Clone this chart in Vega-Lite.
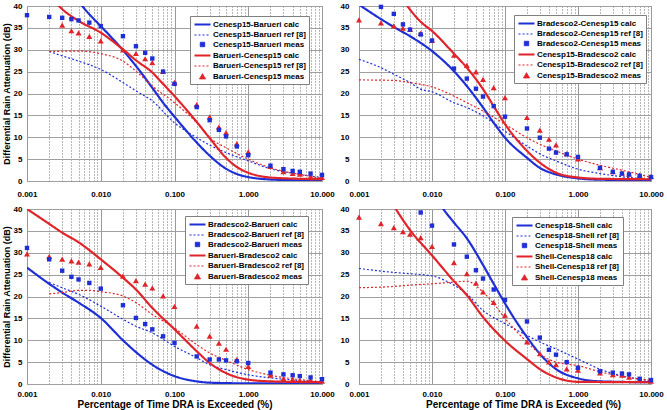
{
  "$schema": "https://vega.github.io/schema/vega-lite/v6.json",
  "background": "white",
  "padding": {"left": 1, "top": 1, "right": 2, "bottom": 0},
  "columns": 2,
  "bounds": "flush",
  "spacing": {"row": 28, "column": 37},
  "resolve": {
    "scale": {"color": "independent", "shape": "independent", "strokeDash": "independent", "strokeWidth": "independent"},
    "legend": {"color": "independent", "shape": "independent", "strokeDash": "independent", "strokeWidth": "independent"}
  },
  "config": {
    "font": "Liberation Sans",
    "view": {"stroke": "#808080", "strokeWidth": 1},
    "axis": {
      "labelFont": "Liberation Sans", "labelFontWeight": "bold", "labelFontSize": 8, "labelColor": "#000",
      "titleFont": "Liberation Sans", "titleFontWeight": "bold", "titleColor": "#000",
      "ticks": false, "domain": false, "gridColor": "#a0a0a0", "gridWidth": 1
    },
    "legend": {
      "orient": "none", "labelFont": "Liberation Sans", "labelFontWeight": "bold", "labelFontSize": 8,
      "labelColor": "#000", "symbolSize": 64, "symbolOffset": 4, "fillColor": "#ffffff", "strokeColor": "#808080",
      "padding": 3, "rowPadding": 1, "labelOffset": 5, "labelLimit": 300
    }
  },
  "datasets": {
    "p1": [
      {"series": "Cenesp15-Barueri calc", "pct": 0.004, "dB": 43},
      {"series": "Cenesp15-Barueri calc", "pct": 0.0056, "dB": 40},
      {"series": "Cenesp15-Barueri calc", "pct": 0.007, "dB": 38.1},
      {"series": "Cenesp15-Barueri calc", "pct": 0.01, "dB": 35.4},
      {"series": "Cenesp15-Barueri calc", "pct": 0.02, "dB": 29.9},
      {"series": "Cenesp15-Barueri calc", "pct": 0.03, "dB": 26.3},
      {"series": "Cenesp15-Barueri calc", "pct": 0.05, "dB": 21.3},
      {"series": "Cenesp15-Barueri calc", "pct": 0.07, "dB": 17.9},
      {"series": "Cenesp15-Barueri calc", "pct": 0.1, "dB": 14.7},
      {"series": "Cenesp15-Barueri calc", "pct": 0.2, "dB": 8.8},
      {"series": "Cenesp15-Barueri calc", "pct": 0.3, "dB": 5.8},
      {"series": "Cenesp15-Barueri calc", "pct": 0.5, "dB": 2.8},
      {"series": "Cenesp15-Barueri calc", "pct": 0.7, "dB": 1.6},
      {"series": "Cenesp15-Barueri calc", "pct": 1, "dB": 0.9},
      {"series": "Cenesp15-Barueri calc", "pct": 2, "dB": 0.35},
      {"series": "Cenesp15-Barueri calc", "pct": 5, "dB": 0.15},
      {"series": "Cenesp15-Barueri calc", "pct": 10, "dB": 0.1},
      {"series": "Cenesp15-Barueri ref [8]", "pct": 0.002, "dB": 29.6},
      {"series": "Cenesp15-Barueri ref [8]", "pct": 0.003, "dB": 28.6},
      {"series": "Cenesp15-Barueri ref [8]", "pct": 0.005, "dB": 27.4},
      {"series": "Cenesp15-Barueri ref [8]", "pct": 0.01, "dB": 25.5},
      {"series": "Cenesp15-Barueri ref [8]", "pct": 0.02, "dB": 22.5},
      {"series": "Cenesp15-Barueri ref [8]", "pct": 0.03, "dB": 20.6},
      {"series": "Cenesp15-Barueri ref [8]", "pct": 0.05, "dB": 18.3},
      {"series": "Cenesp15-Barueri ref [8]", "pct": 0.1, "dB": 13.3},
      {"series": "Cenesp15-Barueri ref [8]", "pct": 0.2, "dB": 9.9},
      {"series": "Cenesp15-Barueri ref [8]", "pct": 0.3, "dB": 8.2},
      {"series": "Cenesp15-Barueri ref [8]", "pct": 0.5, "dB": 6.5},
      {"series": "Cenesp15-Barueri ref [8]", "pct": 1, "dB": 4.6},
      {"series": "Cenesp15-Barueri ref [8]", "pct": 2, "dB": 2.8},
      {"series": "Cenesp15-Barueri ref [8]", "pct": 5, "dB": 1.5},
      {"series": "Cenesp15-Barueri ref [8]", "pct": 10, "dB": 0.8},
      {"series": "Barueri-Cenesp15 meas", "pct": 0.003, "dB": 35.6},
      {"series": "Barueri-Cenesp15 meas", "pct": 0.004, "dB": 34.3},
      {"series": "Barueri-Cenesp15 meas", "pct": 0.005, "dB": 33.8},
      {"series": "Barueri-Cenesp15 meas", "pct": 0.007, "dB": 33.0},
      {"series": "Barueri-Cenesp15 meas", "pct": 0.01, "dB": 32.0},
      {"series": "Barueri-Cenesp15 meas", "pct": 0.02, "dB": 29.9},
      {"series": "Barueri-Cenesp15 meas", "pct": 0.03, "dB": 29.1},
      {"series": "Barueri-Cenesp15 meas", "pct": 0.04, "dB": 27.9},
      {"series": "Barueri-Cenesp15 meas", "pct": 0.05, "dB": 27.0},
      {"series": "Barueri-Cenesp15 meas", "pct": 0.07, "dB": 25.0},
      {"series": "Barueri-Cenesp15 meas", "pct": 0.1, "dB": 22.5},
      {"series": "Barueri-Cenesp15 meas", "pct": 0.2, "dB": 17.4},
      {"series": "Barueri-Cenesp15 meas", "pct": 0.3, "dB": 14.6},
      {"series": "Barueri-Cenesp15 meas", "pct": 0.4, "dB": 12.3},
      {"series": "Barueri-Cenesp15 meas", "pct": 0.5, "dB": 11.0},
      {"series": "Barueri-Cenesp15 meas", "pct": 0.7, "dB": 8.5},
      {"series": "Barueri-Cenesp15 meas", "pct": 1, "dB": 6.6},
      {"series": "Barueri-Cenesp15 meas", "pct": 2, "dB": 3.3},
      {"series": "Barueri-Cenesp15 meas", "pct": 3, "dB": 2.1},
      {"series": "Barueri-Cenesp15 meas", "pct": 4, "dB": 1.7},
      {"series": "Barueri-Cenesp15 meas", "pct": 5, "dB": 1.5},
      {"series": "Barueri-Cenesp15 meas", "pct": 7, "dB": 1.0},
      {"series": "Barueri-Cenesp15 meas", "pct": 10, "dB": 0.8},
      {"series": "Cenesp15-Barueri meas", "pct": 0.001, "dB": 37.9},
      {"series": "Cenesp15-Barueri meas", "pct": 0.002, "dB": 37.5},
      {"series": "Cenesp15-Barueri meas", "pct": 0.003, "dB": 37.3},
      {"series": "Cenesp15-Barueri meas", "pct": 0.004, "dB": 37.0},
      {"series": "Cenesp15-Barueri meas", "pct": 0.005, "dB": 36.7},
      {"series": "Cenesp15-Barueri meas", "pct": 0.007, "dB": 36.2},
      {"series": "Cenesp15-Barueri meas", "pct": 0.01, "dB": 35.4},
      {"series": "Cenesp15-Barueri meas", "pct": 0.02, "dB": 33.1},
      {"series": "Cenesp15-Barueri meas", "pct": 0.03, "dB": 30.8},
      {"series": "Cenesp15-Barueri meas", "pct": 0.04, "dB": 29.3},
      {"series": "Cenesp15-Barueri meas", "pct": 0.05, "dB": 28.0},
      {"series": "Cenesp15-Barueri meas", "pct": 0.07, "dB": 25.0},
      {"series": "Cenesp15-Barueri meas", "pct": 0.1, "dB": 22.2},
      {"series": "Cenesp15-Barueri meas", "pct": 0.2, "dB": 16.9},
      {"series": "Cenesp15-Barueri meas", "pct": 0.3, "dB": 13.9},
      {"series": "Cenesp15-Barueri meas", "pct": 0.4, "dB": 11.7},
      {"series": "Cenesp15-Barueri meas", "pct": 0.5, "dB": 10.2},
      {"series": "Cenesp15-Barueri meas", "pct": 0.7, "dB": 7.9},
      {"series": "Cenesp15-Barueri meas", "pct": 1, "dB": 5.9},
      {"series": "Cenesp15-Barueri meas", "pct": 2, "dB": 3.5},
      {"series": "Cenesp15-Barueri meas", "pct": 3, "dB": 2.7},
      {"series": "Cenesp15-Barueri meas", "pct": 4, "dB": 2.3},
      {"series": "Cenesp15-Barueri meas", "pct": 5, "dB": 2.1},
      {"series": "Cenesp15-Barueri meas", "pct": 7, "dB": 1.7},
      {"series": "Cenesp15-Barueri meas", "pct": 10, "dB": 1.4},
      {"series": "Barueri-Cenesp15 calc", "pct": 0.002, "dB": 42.5},
      {"series": "Barueri-Cenesp15 calc", "pct": 0.0027, "dB": 40},
      {"series": "Barueri-Cenesp15 calc", "pct": 0.005, "dB": 36.6},
      {"series": "Barueri-Cenesp15 calc", "pct": 0.01, "dB": 33.9},
      {"series": "Barueri-Cenesp15 calc", "pct": 0.02, "dB": 30.1},
      {"series": "Barueri-Cenesp15 calc", "pct": 0.03, "dB": 27.6},
      {"series": "Barueri-Cenesp15 calc", "pct": 0.05, "dB": 24.8},
      {"series": "Barueri-Cenesp15 calc", "pct": 0.07, "dB": 22.2},
      {"series": "Barueri-Cenesp15 calc", "pct": 0.1, "dB": 19.4},
      {"series": "Barueri-Cenesp15 calc", "pct": 0.2, "dB": 13.5},
      {"series": "Barueri-Cenesp15 calc", "pct": 0.3, "dB": 9.8},
      {"series": "Barueri-Cenesp15 calc", "pct": 0.5, "dB": 5.3},
      {"series": "Barueri-Cenesp15 calc", "pct": 0.7, "dB": 3.2},
      {"series": "Barueri-Cenesp15 calc", "pct": 1, "dB": 1.9},
      {"series": "Barueri-Cenesp15 calc", "pct": 2, "dB": 0.8},
      {"series": "Barueri-Cenesp15 calc", "pct": 5, "dB": 0.5},
      {"series": "Barueri-Cenesp15 calc", "pct": 10, "dB": 0.4},
      {"series": "Barueri-Cenesp15 ref [8]", "pct": 0.002, "dB": 29.6},
      {"series": "Barueri-Cenesp15 ref [8]", "pct": 0.005, "dB": 29.7},
      {"series": "Barueri-Cenesp15 ref [8]", "pct": 0.01, "dB": 29.1},
      {"series": "Barueri-Cenesp15 ref [8]", "pct": 0.02, "dB": 27.4},
      {"series": "Barueri-Cenesp15 ref [8]", "pct": 0.03, "dB": 25.1},
      {"series": "Barueri-Cenesp15 ref [8]", "pct": 0.05, "dB": 21.7},
      {"series": "Barueri-Cenesp15 ref [8]", "pct": 0.1, "dB": 17.9},
      {"series": "Barueri-Cenesp15 ref [8]", "pct": 0.2, "dB": 13.3},
      {"series": "Barueri-Cenesp15 ref [8]", "pct": 0.3, "dB": 9.9},
      {"series": "Barueri-Cenesp15 ref [8]", "pct": 0.5, "dB": 7.6},
      {"series": "Barueri-Cenesp15 ref [8]", "pct": 1, "dB": 5.0},
      {"series": "Barueri-Cenesp15 ref [8]", "pct": 2, "dB": 3.0},
      {"series": "Barueri-Cenesp15 ref [8]", "pct": 5, "dB": 1.5},
      {"series": "Barueri-Cenesp15 ref [8]", "pct": 10, "dB": 0.6}
    ],
    "p2": [
      {"series": "Bradesco2-Cenesp15 calc", "pct": 0.001, "dB": 40.3},
      {"series": "Bradesco2-Cenesp15 calc", "pct": 0.002, "dB": 37.0},
      {"series": "Bradesco2-Cenesp15 calc", "pct": 0.003, "dB": 35.2},
      {"series": "Bradesco2-Cenesp15 calc", "pct": 0.005, "dB": 33.1},
      {"series": "Bradesco2-Cenesp15 calc", "pct": 0.01, "dB": 29.7},
      {"series": "Bradesco2-Cenesp15 calc", "pct": 0.02, "dB": 25.1},
      {"series": "Bradesco2-Cenesp15 calc", "pct": 0.03, "dB": 21.7},
      {"series": "Bradesco2-Cenesp15 calc", "pct": 0.05, "dB": 16.8},
      {"series": "Bradesco2-Cenesp15 calc", "pct": 0.07, "dB": 13.3},
      {"series": "Bradesco2-Cenesp15 calc", "pct": 0.1, "dB": 9.9},
      {"series": "Bradesco2-Cenesp15 calc", "pct": 0.2, "dB": 5.3},
      {"series": "Bradesco2-Cenesp15 calc", "pct": 0.3, "dB": 3.0},
      {"series": "Bradesco2-Cenesp15 calc", "pct": 0.5, "dB": 1.5},
      {"series": "Bradesco2-Cenesp15 calc", "pct": 1, "dB": 0.6},
      {"series": "Bradesco2-Cenesp15 calc", "pct": 2, "dB": 0.3},
      {"series": "Bradesco2-Cenesp15 calc", "pct": 10, "dB": 0.2},
      {"series": "Bradesco2-Cenesp15 ref [8]", "pct": 0.001, "dB": 27.8},
      {"series": "Bradesco2-Cenesp15 ref [8]", "pct": 0.002, "dB": 25.9},
      {"series": "Bradesco2-Cenesp15 ref [8]", "pct": 0.003, "dB": 24.4},
      {"series": "Bradesco2-Cenesp15 ref [8]", "pct": 0.005, "dB": 22.5},
      {"series": "Bradesco2-Cenesp15 ref [8]", "pct": 0.007, "dB": 21.0},
      {"series": "Bradesco2-Cenesp15 ref [8]", "pct": 0.01, "dB": 20.4},
      {"series": "Bradesco2-Cenesp15 ref [8]", "pct": 0.02, "dB": 17.9},
      {"series": "Bradesco2-Cenesp15 ref [8]", "pct": 0.03, "dB": 16.8},
      {"series": "Bradesco2-Cenesp15 ref [8]", "pct": 0.05, "dB": 14.9},
      {"series": "Bradesco2-Cenesp15 ref [8]", "pct": 0.1, "dB": 11.4},
      {"series": "Bradesco2-Cenesp15 ref [8]", "pct": 0.2, "dB": 8.0},
      {"series": "Bradesco2-Cenesp15 ref [8]", "pct": 0.3, "dB": 6.2},
      {"series": "Bradesco2-Cenesp15 ref [8]", "pct": 0.5, "dB": 4.6},
      {"series": "Bradesco2-Cenesp15 ref [8]", "pct": 1, "dB": 2.7},
      {"series": "Bradesco2-Cenesp15 ref [8]", "pct": 2, "dB": 1.7},
      {"series": "Bradesco2-Cenesp15 ref [8]", "pct": 5, "dB": 0.8},
      {"series": "Bradesco2-Cenesp15 ref [8]", "pct": 10, "dB": 0.4},
      {"series": "Cenesp15-Bradesco2 meas", "pct": 0.001, "dB": 36.8},
      {"series": "Cenesp15-Bradesco2 meas", "pct": 0.002, "dB": 36.1},
      {"series": "Cenesp15-Bradesco2 meas", "pct": 0.003, "dB": 35.4},
      {"series": "Cenesp15-Bradesco2 meas", "pct": 0.004, "dB": 34.9},
      {"series": "Cenesp15-Bradesco2 meas", "pct": 0.005, "dB": 34.6},
      {"series": "Cenesp15-Bradesco2 meas", "pct": 0.007, "dB": 33.7},
      {"series": "Cenesp15-Bradesco2 meas", "pct": 0.01, "dB": 32.1},
      {"series": "Cenesp15-Bradesco2 meas", "pct": 0.02, "dB": 28.7},
      {"series": "Cenesp15-Bradesco2 meas", "pct": 0.03, "dB": 26.4},
      {"series": "Cenesp15-Bradesco2 meas", "pct": 0.04, "dB": 24.9},
      {"series": "Cenesp15-Bradesco2 meas", "pct": 0.05, "dB": 23.2},
      {"series": "Cenesp15-Bradesco2 meas", "pct": 0.07, "dB": 21.3},
      {"series": "Cenesp15-Bradesco2 meas", "pct": 0.1, "dB": 19.0},
      {"series": "Cenesp15-Bradesco2 meas", "pct": 0.2, "dB": 14.5},
      {"series": "Cenesp15-Bradesco2 meas", "pct": 0.3, "dB": 11.6},
      {"series": "Cenesp15-Bradesco2 meas", "pct": 0.4, "dB": 9.5},
      {"series": "Cenesp15-Bradesco2 meas", "pct": 0.5, "dB": 8.2},
      {"series": "Cenesp15-Bradesco2 meas", "pct": 0.7, "dB": 6.2},
      {"series": "Cenesp15-Bradesco2 meas", "pct": 1, "dB": 5.0},
      {"series": "Cenesp15-Bradesco2 meas", "pct": 2, "dB": 3.0},
      {"series": "Cenesp15-Bradesco2 meas", "pct": 3, "dB": 2.1},
      {"series": "Cenesp15-Bradesco2 meas", "pct": 4, "dB": 1.8},
      {"series": "Cenesp15-Bradesco2 meas", "pct": 5, "dB": 1.5},
      {"series": "Cenesp15-Bradesco2 meas", "pct": 7, "dB": 1.3},
      {"series": "Cenesp15-Bradesco2 meas", "pct": 10, "dB": 1.0},
      {"series": "Bradesco2-Cenesp15 meas", "pct": 0.002, "dB": 39.8},
      {"series": "Bradesco2-Cenesp15 meas", "pct": 0.003, "dB": 38.2},
      {"series": "Bradesco2-Cenesp15 meas", "pct": 0.004, "dB": 35.8},
      {"series": "Bradesco2-Cenesp15 meas", "pct": 0.005, "dB": 34.6},
      {"series": "Bradesco2-Cenesp15 meas", "pct": 0.007, "dB": 33.5},
      {"series": "Bradesco2-Cenesp15 meas", "pct": 0.01, "dB": 32.1},
      {"series": "Bradesco2-Cenesp15 meas", "pct": 0.02, "dB": 25.7},
      {"series": "Bradesco2-Cenesp15 meas", "pct": 0.03, "dB": 23.4},
      {"series": "Bradesco2-Cenesp15 meas", "pct": 0.04, "dB": 21.1},
      {"series": "Bradesco2-Cenesp15 meas", "pct": 0.05, "dB": 19.3},
      {"series": "Bradesco2-Cenesp15 meas", "pct": 0.07, "dB": 17.1},
      {"series": "Bradesco2-Cenesp15 meas", "pct": 0.1, "dB": 14.7},
      {"series": "Bradesco2-Cenesp15 meas", "pct": 0.2, "dB": 12.0},
      {"series": "Bradesco2-Cenesp15 meas", "pct": 0.3, "dB": 9.9},
      {"series": "Bradesco2-Cenesp15 meas", "pct": 0.4, "dB": 7.4},
      {"series": "Bradesco2-Cenesp15 meas", "pct": 0.5, "dB": 6.5},
      {"series": "Bradesco2-Cenesp15 meas", "pct": 0.7, "dB": 6.1},
      {"series": "Bradesco2-Cenesp15 meas", "pct": 1, "dB": 5.5},
      {"series": "Bradesco2-Cenesp15 meas", "pct": 2, "dB": 3.0},
      {"series": "Bradesco2-Cenesp15 meas", "pct": 3, "dB": 2.1},
      {"series": "Bradesco2-Cenesp15 meas", "pct": 4, "dB": 1.7},
      {"series": "Bradesco2-Cenesp15 meas", "pct": 5, "dB": 1.5},
      {"series": "Bradesco2-Cenesp15 meas", "pct": 7, "dB": 1.2},
      {"series": "Bradesco2-Cenesp15 meas", "pct": 10, "dB": 0.9},
      {"series": "Cenesp15-Bradesco2 calc", "pct": 0.0035, "dB": 43},
      {"series": "Cenesp15-Bradesco2 calc", "pct": 0.0046, "dB": 40},
      {"series": "Cenesp15-Bradesco2 calc", "pct": 0.007, "dB": 36.4},
      {"series": "Cenesp15-Bradesco2 calc", "pct": 0.01, "dB": 34.3},
      {"series": "Cenesp15-Bradesco2 calc", "pct": 0.02, "dB": 29.1},
      {"series": "Cenesp15-Bradesco2 calc", "pct": 0.03, "dB": 25.9},
      {"series": "Cenesp15-Bradesco2 calc", "pct": 0.05, "dB": 21.0},
      {"series": "Cenesp15-Bradesco2 calc", "pct": 0.07, "dB": 17.1},
      {"series": "Cenesp15-Bradesco2 calc", "pct": 0.1, "dB": 13.0},
      {"series": "Cenesp15-Bradesco2 calc", "pct": 0.2, "dB": 6.9},
      {"series": "Cenesp15-Bradesco2 calc", "pct": 0.3, "dB": 4.2},
      {"series": "Cenesp15-Bradesco2 calc", "pct": 0.5, "dB": 1.9},
      {"series": "Cenesp15-Bradesco2 calc", "pct": 1, "dB": 0.8},
      {"series": "Cenesp15-Bradesco2 calc", "pct": 2, "dB": 0.5},
      {"series": "Cenesp15-Bradesco2 calc", "pct": 10, "dB": 0.4},
      {"series": "Cenesp15-Bradesco2 ref [8]", "pct": 0.001, "dB": 23.1},
      {"series": "Cenesp15-Bradesco2 ref [8]", "pct": 0.003, "dB": 23.0},
      {"series": "Cenesp15-Bradesco2 ref [8]", "pct": 0.005, "dB": 22.5},
      {"series": "Cenesp15-Bradesco2 ref [8]", "pct": 0.007, "dB": 22.1},
      {"series": "Cenesp15-Bradesco2 ref [8]", "pct": 0.01, "dB": 21.5},
      {"series": "Cenesp15-Bradesco2 ref [8]", "pct": 0.02, "dB": 19.4},
      {"series": "Cenesp15-Bradesco2 ref [8]", "pct": 0.03, "dB": 17.9},
      {"series": "Cenesp15-Bradesco2 ref [8]", "pct": 0.05, "dB": 16.0},
      {"series": "Cenesp15-Bradesco2 ref [8]", "pct": 0.1, "dB": 13.0},
      {"series": "Cenesp15-Bradesco2 ref [8]", "pct": 0.2, "dB": 9.9},
      {"series": "Cenesp15-Bradesco2 ref [8]", "pct": 0.3, "dB": 8.4},
      {"series": "Cenesp15-Bradesco2 ref [8]", "pct": 0.5, "dB": 6.9},
      {"series": "Cenesp15-Bradesco2 ref [8]", "pct": 1, "dB": 5.0},
      {"series": "Cenesp15-Bradesco2 ref [8]", "pct": 2, "dB": 3.6},
      {"series": "Cenesp15-Bradesco2 ref [8]", "pct": 5, "dB": 2.1},
      {"series": "Cenesp15-Bradesco2 ref [8]", "pct": 10, "dB": 0.8}
    ],
    "p3": [
      {"series": "Bradesco2-Barueri calc", "pct": 0.001, "dB": 26.6},
      {"series": "Bradesco2-Barueri calc", "pct": 0.002, "dB": 22.9},
      {"series": "Bradesco2-Barueri calc", "pct": 0.003, "dB": 20.9},
      {"series": "Bradesco2-Barueri calc", "pct": 0.005, "dB": 18.6},
      {"series": "Bradesco2-Barueri calc", "pct": 0.01, "dB": 15.1},
      {"series": "Bradesco2-Barueri calc", "pct": 0.02, "dB": 10.0},
      {"series": "Bradesco2-Barueri calc", "pct": 0.03, "dB": 7.3},
      {"series": "Bradesco2-Barueri calc", "pct": 0.05, "dB": 4.4},
      {"series": "Bradesco2-Barueri calc", "pct": 0.1, "dB": 1.8},
      {"series": "Bradesco2-Barueri calc", "pct": 0.2, "dB": 0.6},
      {"series": "Bradesco2-Barueri calc", "pct": 0.3, "dB": 0.3},
      {"series": "Bradesco2-Barueri calc", "pct": 1, "dB": 0.15},
      {"series": "Bradesco2-Barueri calc", "pct": 10, "dB": 0.15},
      {"series": "Bradesco2-Barueri ref [8]", "pct": 0.002, "dB": 23.2},
      {"series": "Bradesco2-Barueri ref [8]", "pct": 0.003, "dB": 22.0},
      {"series": "Bradesco2-Barueri ref [8]", "pct": 0.005, "dB": 20.5},
      {"series": "Bradesco2-Barueri ref [8]", "pct": 0.01, "dB": 17.8},
      {"series": "Bradesco2-Barueri ref [8]", "pct": 0.02, "dB": 14.8},
      {"series": "Bradesco2-Barueri ref [8]", "pct": 0.03, "dB": 13.2},
      {"series": "Bradesco2-Barueri ref [8]", "pct": 0.05, "dB": 11.7},
      {"series": "Bradesco2-Barueri ref [8]", "pct": 0.1, "dB": 8.6},
      {"series": "Bradesco2-Barueri ref [8]", "pct": 0.2, "dB": 6.0},
      {"series": "Bradesco2-Barueri ref [8]", "pct": 0.3, "dB": 4.4},
      {"series": "Bradesco2-Barueri ref [8]", "pct": 0.5, "dB": 3.3},
      {"series": "Bradesco2-Barueri ref [8]", "pct": 1, "dB": 2.1},
      {"series": "Bradesco2-Barueri ref [8]", "pct": 2, "dB": 1.4},
      {"series": "Bradesco2-Barueri ref [8]", "pct": 5, "dB": 0.8},
      {"series": "Bradesco2-Barueri ref [8]", "pct": 10, "dB": 0.4},
      {"series": "Barueri-Bradesco2 meas", "pct": 0.001, "dB": 29.7},
      {"series": "Barueri-Bradesco2 meas", "pct": 0.002, "dB": 29.1},
      {"series": "Barueri-Bradesco2 meas", "pct": 0.003, "dB": 28.5},
      {"series": "Barueri-Bradesco2 meas", "pct": 0.004, "dB": 28.1},
      {"series": "Barueri-Bradesco2 meas", "pct": 0.005, "dB": 27.8},
      {"series": "Barueri-Bradesco2 meas", "pct": 0.007, "dB": 27.4},
      {"series": "Barueri-Bradesco2 meas", "pct": 0.01, "dB": 26.6},
      {"series": "Barueri-Bradesco2 meas", "pct": 0.02, "dB": 24.6},
      {"series": "Barueri-Bradesco2 meas", "pct": 0.03, "dB": 23.6},
      {"series": "Barueri-Bradesco2 meas", "pct": 0.04, "dB": 22.8},
      {"series": "Barueri-Bradesco2 meas", "pct": 0.05, "dB": 21.9},
      {"series": "Barueri-Bradesco2 meas", "pct": 0.07, "dB": 20.1},
      {"series": "Barueri-Bradesco2 meas", "pct": 0.1, "dB": 17.7},
      {"series": "Barueri-Bradesco2 meas", "pct": 0.2, "dB": 13.2},
      {"series": "Barueri-Bradesco2 meas", "pct": 0.3, "dB": 10.9},
      {"series": "Barueri-Bradesco2 meas", "pct": 0.4, "dB": 9.3},
      {"series": "Barueri-Bradesco2 meas", "pct": 0.5, "dB": 7.9},
      {"series": "Barueri-Bradesco2 meas", "pct": 0.7, "dB": 5.6},
      {"series": "Barueri-Bradesco2 meas", "pct": 1, "dB": 4.0},
      {"series": "Barueri-Bradesco2 meas", "pct": 2, "dB": 2.0},
      {"series": "Barueri-Bradesco2 meas", "pct": 3, "dB": 1.2},
      {"series": "Barueri-Bradesco2 meas", "pct": 4, "dB": 1.0},
      {"series": "Barueri-Bradesco2 meas", "pct": 5, "dB": 0.8},
      {"series": "Barueri-Bradesco2 meas", "pct": 7, "dB": 0.8},
      {"series": "Barueri-Bradesco2 meas", "pct": 10, "dB": 0.6},
      {"series": "Bradesco2-Barueri meas", "pct": 0.001, "dB": 31.1},
      {"series": "Bradesco2-Barueri meas", "pct": 0.002, "dB": 28.5},
      {"series": "Bradesco2-Barueri meas", "pct": 0.003, "dB": 25.9},
      {"series": "Bradesco2-Barueri meas", "pct": 0.004, "dB": 24.5},
      {"series": "Bradesco2-Barueri meas", "pct": 0.005, "dB": 23.9},
      {"series": "Bradesco2-Barueri meas", "pct": 0.007, "dB": 23.1},
      {"series": "Bradesco2-Barueri meas", "pct": 0.01, "dB": 21.8},
      {"series": "Bradesco2-Barueri meas", "pct": 0.02, "dB": 18.0},
      {"series": "Bradesco2-Barueri meas", "pct": 0.03, "dB": 15.1},
      {"series": "Bradesco2-Barueri meas", "pct": 0.04, "dB": 13.7},
      {"series": "Bradesco2-Barueri meas", "pct": 0.05, "dB": 12.5},
      {"series": "Bradesco2-Barueri meas", "pct": 0.07, "dB": 10.9},
      {"series": "Bradesco2-Barueri meas", "pct": 0.1, "dB": 9.4},
      {"series": "Bradesco2-Barueri meas", "pct": 0.2, "dB": 6.3},
      {"series": "Bradesco2-Barueri meas", "pct": 0.3, "dB": 5.6},
      {"series": "Bradesco2-Barueri meas", "pct": 0.4, "dB": 5.6},
      {"series": "Bradesco2-Barueri meas", "pct": 0.5, "dB": 5.4},
      {"series": "Bradesco2-Barueri meas", "pct": 0.7, "dB": 5.2},
      {"series": "Bradesco2-Barueri meas", "pct": 1, "dB": 4.8},
      {"series": "Bradesco2-Barueri meas", "pct": 2, "dB": 2.6},
      {"series": "Bradesco2-Barueri meas", "pct": 3, "dB": 2.2},
      {"series": "Bradesco2-Barueri meas", "pct": 4, "dB": 2.0},
      {"series": "Bradesco2-Barueri meas", "pct": 5, "dB": 1.8},
      {"series": "Bradesco2-Barueri meas", "pct": 7, "dB": 1.5},
      {"series": "Bradesco2-Barueri meas", "pct": 10, "dB": 1.1},
      {"series": "Barueri-Bradesco2 calc", "pct": 0.001, "dB": 40.0},
      {"series": "Barueri-Bradesco2 calc", "pct": 0.002, "dB": 36.6},
      {"series": "Barueri-Bradesco2 calc", "pct": 0.003, "dB": 34.6},
      {"series": "Barueri-Bradesco2 calc", "pct": 0.005, "dB": 32.4},
      {"series": "Barueri-Bradesco2 calc", "pct": 0.01, "dB": 28.5},
      {"series": "Barueri-Bradesco2 calc", "pct": 0.02, "dB": 24.3},
      {"series": "Barueri-Bradesco2 calc", "pct": 0.03, "dB": 21.6},
      {"series": "Barueri-Bradesco2 calc", "pct": 0.05, "dB": 17.4},
      {"series": "Barueri-Bradesco2 calc", "pct": 0.1, "dB": 12.5},
      {"series": "Barueri-Bradesco2 calc", "pct": 0.2, "dB": 7.5},
      {"series": "Barueri-Bradesco2 calc", "pct": 0.3, "dB": 4.8},
      {"series": "Barueri-Bradesco2 calc", "pct": 0.5, "dB": 2.5},
      {"series": "Barueri-Bradesco2 calc", "pct": 1, "dB": 1.0},
      {"series": "Barueri-Bradesco2 calc", "pct": 2, "dB": 0.6},
      {"series": "Barueri-Bradesco2 calc", "pct": 10, "dB": 0.4},
      {"series": "Barueri-Bradesco2 ref [8]", "pct": 0.002, "dB": 20.6},
      {"series": "Barueri-Bradesco2 ref [8]", "pct": 0.003, "dB": 20.9},
      {"series": "Barueri-Bradesco2 ref [8]", "pct": 0.005, "dB": 21.4},
      {"series": "Barueri-Bradesco2 ref [8]", "pct": 0.007, "dB": 21.4},
      {"series": "Barueri-Bradesco2 ref [8]", "pct": 0.01, "dB": 21.1},
      {"series": "Barueri-Bradesco2 ref [8]", "pct": 0.02, "dB": 20.1},
      {"series": "Barueri-Bradesco2 ref [8]", "pct": 0.03, "dB": 18.6},
      {"series": "Barueri-Bradesco2 ref [8]", "pct": 0.05, "dB": 15.9},
      {"series": "Barueri-Bradesco2 ref [8]", "pct": 0.1, "dB": 12.8},
      {"series": "Barueri-Bradesco2 ref [8]", "pct": 0.2, "dB": 9.0},
      {"series": "Barueri-Bradesco2 ref [8]", "pct": 0.3, "dB": 7.1},
      {"series": "Barueri-Bradesco2 ref [8]", "pct": 0.5, "dB": 5.4},
      {"series": "Barueri-Bradesco2 ref [8]", "pct": 1, "dB": 3.3},
      {"series": "Barueri-Bradesco2 ref [8]", "pct": 2, "dB": 2.0},
      {"series": "Barueri-Bradesco2 ref [8]", "pct": 5, "dB": 1.0},
      {"series": "Barueri-Bradesco2 ref [8]", "pct": 10, "dB": 0.5}
    ],
    "p4": [
      {"series": "Cenesp18-Shell calc", "pct": 0.011, "dB": 43},
      {"series": "Cenesp18-Shell calc", "pct": 0.0143, "dB": 40},
      {"series": "Cenesp18-Shell calc", "pct": 0.02, "dB": 36.9},
      {"series": "Cenesp18-Shell calc", "pct": 0.03, "dB": 33.3},
      {"series": "Cenesp18-Shell calc", "pct": 0.05, "dB": 27.2},
      {"series": "Cenesp18-Shell calc", "pct": 0.07, "dB": 22.9},
      {"series": "Cenesp18-Shell calc", "pct": 0.1, "dB": 18.4},
      {"series": "Cenesp18-Shell calc", "pct": 0.2, "dB": 10.7},
      {"series": "Cenesp18-Shell calc", "pct": 0.3, "dB": 6.9},
      {"series": "Cenesp18-Shell calc", "pct": 0.5, "dB": 3.4},
      {"series": "Cenesp18-Shell calc", "pct": 1, "dB": 1.3},
      {"series": "Cenesp18-Shell calc", "pct": 2, "dB": 0.6},
      {"series": "Cenesp18-Shell calc", "pct": 10, "dB": 0.4},
      {"series": "Cenesp18-Shell ref [8]", "pct": 0.001, "dB": 26.4},
      {"series": "Cenesp18-Shell ref [8]", "pct": 0.003, "dB": 25.5},
      {"series": "Cenesp18-Shell ref [8]", "pct": 0.005, "dB": 25.2},
      {"series": "Cenesp18-Shell ref [8]", "pct": 0.01, "dB": 24.7},
      {"series": "Cenesp18-Shell ref [8]", "pct": 0.02, "dB": 22.6},
      {"series": "Cenesp18-Shell ref [8]", "pct": 0.03, "dB": 20.6},
      {"series": "Cenesp18-Shell ref [8]", "pct": 0.05, "dB": 16.8},
      {"series": "Cenesp18-Shell ref [8]", "pct": 0.1, "dB": 13.8},
      {"series": "Cenesp18-Shell ref [8]", "pct": 0.2, "dB": 11.1},
      {"series": "Cenesp18-Shell ref [8]", "pct": 0.3, "dB": 9.6},
      {"series": "Cenesp18-Shell ref [8]", "pct": 0.5, "dB": 8.0},
      {"series": "Cenesp18-Shell ref [8]", "pct": 1, "dB": 5.7},
      {"series": "Cenesp18-Shell ref [8]", "pct": 2, "dB": 3.4},
      {"series": "Cenesp18-Shell ref [8]", "pct": 5, "dB": 1.5},
      {"series": "Cenesp18-Shell ref [8]", "pct": 10, "dB": 0.8},
      {"series": "Shell-Cenesp18 meas", "pct": 0.001, "dB": 38.1},
      {"series": "Shell-Cenesp18 meas", "pct": 0.002, "dB": 36.6},
      {"series": "Shell-Cenesp18 meas", "pct": 0.003, "dB": 35.7},
      {"series": "Shell-Cenesp18 meas", "pct": 0.004, "dB": 34.8},
      {"series": "Shell-Cenesp18 meas", "pct": 0.005, "dB": 34.2},
      {"series": "Shell-Cenesp18 meas", "pct": 0.007, "dB": 33.4},
      {"series": "Shell-Cenesp18 meas", "pct": 0.01, "dB": 31.4},
      {"series": "Shell-Cenesp18 meas", "pct": 0.02, "dB": 27.7},
      {"series": "Shell-Cenesp18 meas", "pct": 0.03, "dB": 25.2},
      {"series": "Shell-Cenesp18 meas", "pct": 0.04, "dB": 23.0},
      {"series": "Shell-Cenesp18 meas", "pct": 0.05, "dB": 21.0},
      {"series": "Shell-Cenesp18 meas", "pct": 0.07, "dB": 18.6},
      {"series": "Shell-Cenesp18 meas", "pct": 0.1, "dB": 15.7},
      {"series": "Shell-Cenesp18 meas", "pct": 0.2, "dB": 9.6},
      {"series": "Shell-Cenesp18 meas", "pct": 0.3, "dB": 6.9},
      {"series": "Shell-Cenesp18 meas", "pct": 0.4, "dB": 5.0},
      {"series": "Shell-Cenesp18 meas", "pct": 0.5, "dB": 4.4},
      {"series": "Shell-Cenesp18 meas", "pct": 0.7, "dB": 3.4},
      {"series": "Shell-Cenesp18 meas", "pct": 1, "dB": 3.1},
      {"series": "Shell-Cenesp18 meas", "pct": 2, "dB": 2.5},
      {"series": "Shell-Cenesp18 meas", "pct": 3, "dB": 2.1},
      {"series": "Shell-Cenesp18 meas", "pct": 4, "dB": 2.0},
      {"series": "Shell-Cenesp18 meas", "pct": 5, "dB": 1.5},
      {"series": "Shell-Cenesp18 meas", "pct": 7, "dB": 0.9},
      {"series": "Shell-Cenesp18 meas", "pct": 10, "dB": 0.6},
      {"series": "Cenesp18-Shell meas", "pct": 0.007, "dB": 39.2},
      {"series": "Cenesp18-Shell meas", "pct": 0.01, "dB": 36.2},
      {"series": "Cenesp18-Shell meas", "pct": 0.02, "dB": 31.9},
      {"series": "Cenesp18-Shell meas", "pct": 0.03, "dB": 29.1},
      {"series": "Cenesp18-Shell meas", "pct": 0.04, "dB": 26.0},
      {"series": "Cenesp18-Shell meas", "pct": 0.05, "dB": 24.1},
      {"series": "Cenesp18-Shell meas", "pct": 0.07, "dB": 21.6},
      {"series": "Cenesp18-Shell meas", "pct": 0.1, "dB": 19.2},
      {"series": "Cenesp18-Shell meas", "pct": 0.2, "dB": 14.3},
      {"series": "Cenesp18-Shell meas", "pct": 0.3, "dB": 10.6},
      {"series": "Cenesp18-Shell meas", "pct": 0.4, "dB": 7.8},
      {"series": "Cenesp18-Shell meas", "pct": 0.5, "dB": 6.7},
      {"series": "Cenesp18-Shell meas", "pct": 0.7, "dB": 5.0},
      {"series": "Cenesp18-Shell meas", "pct": 1, "dB": 3.7},
      {"series": "Cenesp18-Shell meas", "pct": 2, "dB": 2.9},
      {"series": "Cenesp18-Shell meas", "pct": 3, "dB": 2.6},
      {"series": "Cenesp18-Shell meas", "pct": 4, "dB": 2.4},
      {"series": "Cenesp18-Shell meas", "pct": 5, "dB": 2.2},
      {"series": "Cenesp18-Shell meas", "pct": 7, "dB": 1.2},
      {"series": "Cenesp18-Shell meas", "pct": 10, "dB": 0.9},
      {"series": "Shell-Cenesp18 calc", "pct": 0.0025, "dB": 43},
      {"series": "Shell-Cenesp18 calc", "pct": 0.0032, "dB": 40},
      {"series": "Shell-Cenesp18 calc", "pct": 0.005, "dB": 35.2},
      {"series": "Shell-Cenesp18 calc", "pct": 0.01, "dB": 29.4},
      {"series": "Shell-Cenesp18 calc", "pct": 0.02, "dB": 23.5},
      {"series": "Shell-Cenesp18 calc", "pct": 0.03, "dB": 20.3},
      {"series": "Shell-Cenesp18 calc", "pct": 0.05, "dB": 15.3},
      {"series": "Shell-Cenesp18 calc", "pct": 0.1, "dB": 9.9},
      {"series": "Shell-Cenesp18 calc", "pct": 0.2, "dB": 5.7},
      {"series": "Shell-Cenesp18 calc", "pct": 0.3, "dB": 3.4},
      {"series": "Shell-Cenesp18 calc", "pct": 0.5, "dB": 1.5},
      {"series": "Shell-Cenesp18 calc", "pct": 1, "dB": 0.5},
      {"series": "Shell-Cenesp18 calc", "pct": 10, "dB": 0.4},
      {"series": "Shell-Cenesp18 ref [8]", "pct": 0.001, "dB": 22.0},
      {"series": "Shell-Cenesp18 ref [8]", "pct": 0.003, "dB": 22.3},
      {"series": "Shell-Cenesp18 ref [8]", "pct": 0.005, "dB": 22.6},
      {"series": "Shell-Cenesp18 ref [8]", "pct": 0.01, "dB": 22.9},
      {"series": "Shell-Cenesp18 ref [8]", "pct": 0.02, "dB": 23.3},
      {"series": "Shell-Cenesp18 ref [8]", "pct": 0.03, "dB": 23.5},
      {"series": "Shell-Cenesp18 ref [8]", "pct": 0.05, "dB": 21.0},
      {"series": "Shell-Cenesp18 ref [8]", "pct": 0.07, "dB": 18.4},
      {"series": "Shell-Cenesp18 ref [8]", "pct": 0.1, "dB": 15.0},
      {"series": "Shell-Cenesp18 ref [8]", "pct": 0.2, "dB": 9.6},
      {"series": "Shell-Cenesp18 ref [8]", "pct": 0.3, "dB": 6.9},
      {"series": "Shell-Cenesp18 ref [8]", "pct": 0.5, "dB": 5.0},
      {"series": "Shell-Cenesp18 ref [8]", "pct": 1, "dB": 4.2},
      {"series": "Shell-Cenesp18 ref [8]", "pct": 2, "dB": 2.8},
      {"series": "Shell-Cenesp18 ref [8]", "pct": 5, "dB": 1.5},
      {"series": "Shell-Cenesp18 ref [8]", "pct": 10, "dB": 0.8}
    ]
  },
  "concat": [
    {
      "width": 295, "height": 175,
      "data": {"name": "p1"},
      "encoding": {
        "x": {"field": "pct", "type": "quantitative", "scale": {"type": "log", "domain": [0.001, 10]},
          "axis": {"title": null, "values": [0.001,0.002,0.003,0.004,0.005,0.006,0.007,0.008,0.009,0.01,0.02,0.03,0.04,0.05,0.06,0.07,0.08,0.09,0.1,0.2,0.3,0.4,0.5,0.6,0.7,0.8,0.9,1,2,3,4,5,6,7,8,9,10],
            "labelExpr": "abs(log(datum.value)/LN10-round(log(datum.value)/LN10))<0.01 ? format(datum.value, '.3f') : ''",
            "labelOverlap": false, "labelBound": false, "labelFlush": false, "labelPadding": 9,
            "gridDash": {"condition": {"test": "abs(log(datum.value)/LN10-round(log(datum.value)/LN10))<0.01", "value": []}, "value": [1, 2]},
            "gridColor": {"condition": {"test": "abs(log(datum.value)/LN10-round(log(datum.value)/LN10))<0.01", "value": "#999999"}, "value": "#6e6e6e"}}},
        "y": {"field": "dB", "type": "quantitative", "scale": {"domain": [0, 40]},
          "axis": {"values": [0,5,10,15,20,25,30,35,40], "title": "Differential Rain Attenuation (dB)", "titleFontSize": 9, "titlePadding": 2, "labelPadding": 5}},
        "color": {"field": "series", "type": "nominal",
          "scale": {"domain": ["Cenesp15-Barueri calc","Cenesp15-Barueri ref [8]","Cenesp15-Barueri meas","Barueri-Cenesp15 calc","Barueri-Cenesp15 ref [8]","Barueri-Cenesp15 meas"],
            "range": ["#1f2fd6","#1f2fd6","#1f2fd6","#e0242a","#e0242a","#e0242a"]},
          "legend": {"title": null, "orient": "none", "legendX": 163, "legendY": 10}}
      },
      "layer": [
        {
          "transform": [{"filter": "indexof(datum.series, 'meas') < 0"}],
          "mark": {"type": "line", "interpolate": "monotone", "clip": true},
          "encoding": {
            "strokeDash": {"field": "series", "type": "nominal",
              "scale": {"domain": ["Cenesp15-Barueri calc","Cenesp15-Barueri ref [8]","Cenesp15-Barueri meas","Barueri-Cenesp15 calc","Barueri-Cenesp15 ref [8]","Barueri-Cenesp15 meas"],
                "range": [[1,0],[2,2],[1,0],[1,0],[2,2],[1,0]]},
              "legend": {"title": null, "orient": "none", "legendX": 163, "legendY": 10}},
            "strokeWidth": {"field": "series", "type": "nominal",
              "scale": {"type": "ordinal", "domain": ["Cenesp15-Barueri calc","Cenesp15-Barueri ref [8]","Cenesp15-Barueri meas","Barueri-Cenesp15 calc","Barueri-Cenesp15 ref [8]","Barueri-Cenesp15 meas"],
                "range": [2.2,1.2,1,2.2,1.2,1]},
              "legend": {"title": null, "orient": "none", "legendX": 163, "legendY": 10}}
          }
        },
        {
          "transform": [{"filter": "indexof(datum.series, 'meas') >= 0"}],
          "mark": {"type": "point", "filled": true, "opacity": 1, "size": 64},
          "encoding": {
            "shape": {"field": "series", "type": "nominal",
              "scale": {"domain": ["Cenesp15-Barueri calc","Cenesp15-Barueri ref [8]","Cenesp15-Barueri meas","Barueri-Cenesp15 calc","Barueri-Cenesp15 ref [8]","Barueri-Cenesp15 meas"],
                "range": ["M-2,0H2","M-2,0H2","M-0.55,-0.55H0.55V0.55H-0.55Z","M-2,0H2","M-2,0H2","M0,-0.7L0.75,0.6H-0.75Z"]},
              "legend": {"title": null, "orient": "none", "legendX": 163, "legendY": 10}}
          }
        }
      ]
    },
    {
      "width": 292, "height": 175,
      "data": {"name": "p2"},
      "encoding": {
        "x": {"field": "pct", "type": "quantitative", "scale": {"type": "log", "domain": [0.001, 10]},
          "axis": {"title": null, "values": [0.001,0.002,0.003,0.004,0.005,0.006,0.007,0.008,0.009,0.01,0.02,0.03,0.04,0.05,0.06,0.07,0.08,0.09,0.1,0.2,0.3,0.4,0.5,0.6,0.7,0.8,0.9,1,2,3,4,5,6,7,8,9,10],
            "labelExpr": "abs(log(datum.value)/LN10-round(log(datum.value)/LN10))<0.01 ? format(datum.value, '.3f') : ''",
            "labelOverlap": false, "labelBound": false, "labelFlush": false, "labelPadding": 9,
            "gridDash": {"condition": {"test": "abs(log(datum.value)/LN10-round(log(datum.value)/LN10))<0.01", "value": []}, "value": [1, 2]},
            "gridColor": {"condition": {"test": "abs(log(datum.value)/LN10-round(log(datum.value)/LN10))<0.01", "value": "#999999"}, "value": "#6e6e6e"}}},
        "y": {"field": "dB", "type": "quantitative", "scale": {"domain": [0, 40]},
          "axis": {"values": [0,5,10,15,20,25,30,35,40], "title": null, "labelPadding": 10}},
        "color": {"field": "series", "type": "nominal",
          "scale": {"domain": ["Bradesco2-Cenesp15 calc","Bradesco2-Cenesp15 ref [8]","Bradesco2-Cenesp15 meas","Cenesp15-Bradesco2 calc","Cenesp15-Bradesco2 ref [8]","Cenesp15-Bradesco2 meas"],
            "range": ["#1f2fd6","#1f2fd6","#1f2fd6","#e0242a","#e0242a","#e0242a"]},
          "legend": {"title": null, "orient": "none", "legendX": 155, "legendY": 9}}
      },
      "layer": [
        {
          "transform": [{"filter": "indexof(datum.series, 'meas') < 0"}],
          "mark": {"type": "line", "interpolate": "monotone", "clip": true},
          "encoding": {
            "strokeDash": {"field": "series", "type": "nominal",
              "scale": {"domain": ["Bradesco2-Cenesp15 calc","Bradesco2-Cenesp15 ref [8]","Bradesco2-Cenesp15 meas","Cenesp15-Bradesco2 calc","Cenesp15-Bradesco2 ref [8]","Cenesp15-Bradesco2 meas"],
                "range": [[1,0],[2,2],[1,0],[1,0],[2,2],[1,0]]},
              "legend": {"title": null, "orient": "none", "legendX": 155, "legendY": 9}},
            "strokeWidth": {"field": "series", "type": "nominal",
              "scale": {"type": "ordinal", "domain": ["Bradesco2-Cenesp15 calc","Bradesco2-Cenesp15 ref [8]","Bradesco2-Cenesp15 meas","Cenesp15-Bradesco2 calc","Cenesp15-Bradesco2 ref [8]","Cenesp15-Bradesco2 meas"],
                "range": [2.2,1.2,1,2.2,1.2,1]},
              "legend": {"title": null, "orient": "none", "legendX": 155, "legendY": 9}}
          }
        },
        {
          "transform": [{"filter": "indexof(datum.series, 'meas') >= 0"}],
          "mark": {"type": "point", "filled": true, "opacity": 1, "size": 64},
          "encoding": {
            "shape": {"field": "series", "type": "nominal",
              "scale": {"domain": ["Bradesco2-Cenesp15 calc","Bradesco2-Cenesp15 ref [8]","Bradesco2-Cenesp15 meas","Cenesp15-Bradesco2 calc","Cenesp15-Bradesco2 ref [8]","Cenesp15-Bradesco2 meas"],
                "range": ["M-2,0H2","M-2,0H2","M-0.55,-0.55H0.55V0.55H-0.55Z","M-2,0H2","M-2,0H2","M0,-0.7L0.75,0.6H-0.75Z"]},
              "legend": {"title": null, "orient": "none", "legendX": 155, "legendY": 9}}
          }
        }
      ]
    },
    {
      "width": 295, "height": 175,
      "data": {"name": "p3"},
      "encoding": {
        "x": {"field": "pct", "type": "quantitative", "scale": {"type": "log", "domain": [0.001, 10]},
          "axis": {"title": "Percentage of Time DRA is Exceeded (%)", "titleFontSize": 10, "titlePadding": 1, "values": [0.001,0.002,0.003,0.004,0.005,0.006,0.007,0.008,0.009,0.01,0.02,0.03,0.04,0.05,0.06,0.07,0.08,0.09,0.1,0.2,0.3,0.4,0.5,0.6,0.7,0.8,0.9,1,2,3,4,5,6,7,8,9,10],
            "labelExpr": "abs(log(datum.value)/LN10-round(log(datum.value)/LN10))<0.01 ? format(datum.value, '.3f') : ''",
            "labelOverlap": false, "labelBound": false, "labelFlush": false, "labelPadding": 6,
            "gridDash": {"condition": {"test": "abs(log(datum.value)/LN10-round(log(datum.value)/LN10))<0.01", "value": []}, "value": [1, 2]},
            "gridColor": {"condition": {"test": "abs(log(datum.value)/LN10-round(log(datum.value)/LN10))<0.01", "value": "#999999"}, "value": "#6e6e6e"}}},
        "y": {"field": "dB", "type": "quantitative", "scale": {"domain": [0, 40]},
          "axis": {"values": [0,5,10,15,20,25,30,35,40], "title": "Differential Rain Attenuation (dB)", "titleFontSize": 9, "titlePadding": 2, "labelPadding": 5}},
        "color": {"field": "series", "type": "nominal",
          "scale": {"domain": ["Bradesco2-Barueri calc","Bradesco2-Barueri ref [8]","Bradesco2-Barueri meas","Barueri-Bradesco2 calc","Barueri-Bradesco2 ref [8]","Barueri-Bradesco2 meas"],
            "range": ["#1f2fd6","#1f2fd6","#1f2fd6","#e0242a","#e0242a","#e0242a"]},
          "legend": {"title": null, "orient": "none", "legendX": 158, "legendY": 7}}
      },
      "layer": [
        {
          "transform": [{"filter": "indexof(datum.series, 'meas') < 0"}],
          "mark": {"type": "line", "interpolate": "monotone", "clip": true},
          "encoding": {
            "strokeDash": {"field": "series", "type": "nominal",
              "scale": {"domain": ["Bradesco2-Barueri calc","Bradesco2-Barueri ref [8]","Bradesco2-Barueri meas","Barueri-Bradesco2 calc","Barueri-Bradesco2 ref [8]","Barueri-Bradesco2 meas"],
                "range": [[1,0],[2,2],[1,0],[1,0],[2,2],[1,0]]},
              "legend": {"title": null, "orient": "none", "legendX": 158, "legendY": 7}},
            "strokeWidth": {"field": "series", "type": "nominal",
              "scale": {"type": "ordinal", "domain": ["Bradesco2-Barueri calc","Bradesco2-Barueri ref [8]","Bradesco2-Barueri meas","Barueri-Bradesco2 calc","Barueri-Bradesco2 ref [8]","Barueri-Bradesco2 meas"],
                "range": [2.2,1.2,1,2.2,1.2,1]},
              "legend": {"title": null, "orient": "none", "legendX": 158, "legendY": 7}}
          }
        },
        {
          "transform": [{"filter": "indexof(datum.series, 'meas') >= 0"}],
          "mark": {"type": "point", "filled": true, "opacity": 1, "size": 64},
          "encoding": {
            "shape": {"field": "series", "type": "nominal",
              "scale": {"domain": ["Bradesco2-Barueri calc","Bradesco2-Barueri ref [8]","Bradesco2-Barueri meas","Barueri-Bradesco2 calc","Barueri-Bradesco2 ref [8]","Barueri-Bradesco2 meas"],
                "range": ["M-2,0H2","M-2,0H2","M-0.55,-0.55H0.55V0.55H-0.55Z","M-2,0H2","M-2,0H2","M0,-0.7L0.75,0.6H-0.75Z"]},
              "legend": {"title": null, "orient": "none", "legendX": 158, "legendY": 7}}
          }
        }
      ]
    },
    {
      "width": 292, "height": 175,
      "data": {"name": "p4"},
      "encoding": {
        "x": {"field": "pct", "type": "quantitative", "scale": {"type": "log", "domain": [0.001, 10]},
          "axis": {"title": "Percentage of Time DRA is Exceeded (%)", "titleFontSize": 10, "titlePadding": 1, "titleX": 164, "values": [0.001,0.002,0.003,0.004,0.005,0.006,0.007,0.008,0.009,0.01,0.02,0.03,0.04,0.05,0.06,0.07,0.08,0.09,0.1,0.2,0.3,0.4,0.5,0.6,0.7,0.8,0.9,1,2,3,4,5,6,7,8,9,10],
            "labelExpr": "abs(log(datum.value)/LN10-round(log(datum.value)/LN10))<0.01 ? format(datum.value, '.3f') : ''",
            "labelOverlap": false, "labelBound": false, "labelFlush": false, "labelPadding": 6,
            "gridDash": {"condition": {"test": "abs(log(datum.value)/LN10-round(log(datum.value)/LN10))<0.01", "value": []}, "value": [1, 2]},
            "gridColor": {"condition": {"test": "abs(log(datum.value)/LN10-round(log(datum.value)/LN10))<0.01", "value": "#999999"}, "value": "#6e6e6e"}}},
        "y": {"field": "dB", "type": "quantitative", "scale": {"domain": [0, 40]},
          "axis": {"values": [0,5,10,15,20,25,30,35,40], "title": null, "labelPadding": 10}},
        "color": {"field": "series", "type": "nominal",
          "scale": {"domain": ["Cenesp18-Shell calc","Cenesp18-Shell ref [8]","Cenesp18-Shell meas","Shell-Cenesp18 calc","Shell-Cenesp18 ref [8]","Shell-Cenesp18 meas"],
            "range": ["#1f2fd6","#1f2fd6","#1f2fd6","#e0242a","#e0242a","#e0242a"]},
          "legend": {"title": null, "orient": "none", "legendX": 153, "legendY": 8}}
      },
      "layer": [
        {
          "transform": [{"filter": "indexof(datum.series, 'meas') < 0"}],
          "mark": {"type": "line", "interpolate": "monotone", "clip": true},
          "encoding": {
            "strokeDash": {"field": "series", "type": "nominal",
              "scale": {"domain": ["Cenesp18-Shell calc","Cenesp18-Shell ref [8]","Cenesp18-Shell meas","Shell-Cenesp18 calc","Shell-Cenesp18 ref [8]","Shell-Cenesp18 meas"],
                "range": [[1,0],[2,2],[1,0],[1,0],[2,2],[1,0]]},
              "legend": {"title": null, "orient": "none", "legendX": 153, "legendY": 8}},
            "strokeWidth": {"field": "series", "type": "nominal",
              "scale": {"type": "ordinal", "domain": ["Cenesp18-Shell calc","Cenesp18-Shell ref [8]","Cenesp18-Shell meas","Shell-Cenesp18 calc","Shell-Cenesp18 ref [8]","Shell-Cenesp18 meas"],
                "range": [2.2,1.2,1,2.2,1.2,1]},
              "legend": {"title": null, "orient": "none", "legendX": 153, "legendY": 8}}
          }
        },
        {
          "transform": [{"filter": "indexof(datum.series, 'meas') >= 0"}],
          "mark": {"type": "point", "filled": true, "opacity": 1, "size": 64},
          "encoding": {
            "shape": {"field": "series", "type": "nominal",
              "scale": {"domain": ["Cenesp18-Shell calc","Cenesp18-Shell ref [8]","Cenesp18-Shell meas","Shell-Cenesp18 calc","Shell-Cenesp18 ref [8]","Shell-Cenesp18 meas"],
                "range": ["M-2,0H2","M-2,0H2","M-0.55,-0.55H0.55V0.55H-0.55Z","M-2,0H2","M-2,0H2","M0,-0.7L0.75,0.6H-0.75Z"]},
              "legend": {"title": null, "orient": "none", "legendX": 153, "legendY": 8}}
          }
        }
      ]
    }
  ]
}
